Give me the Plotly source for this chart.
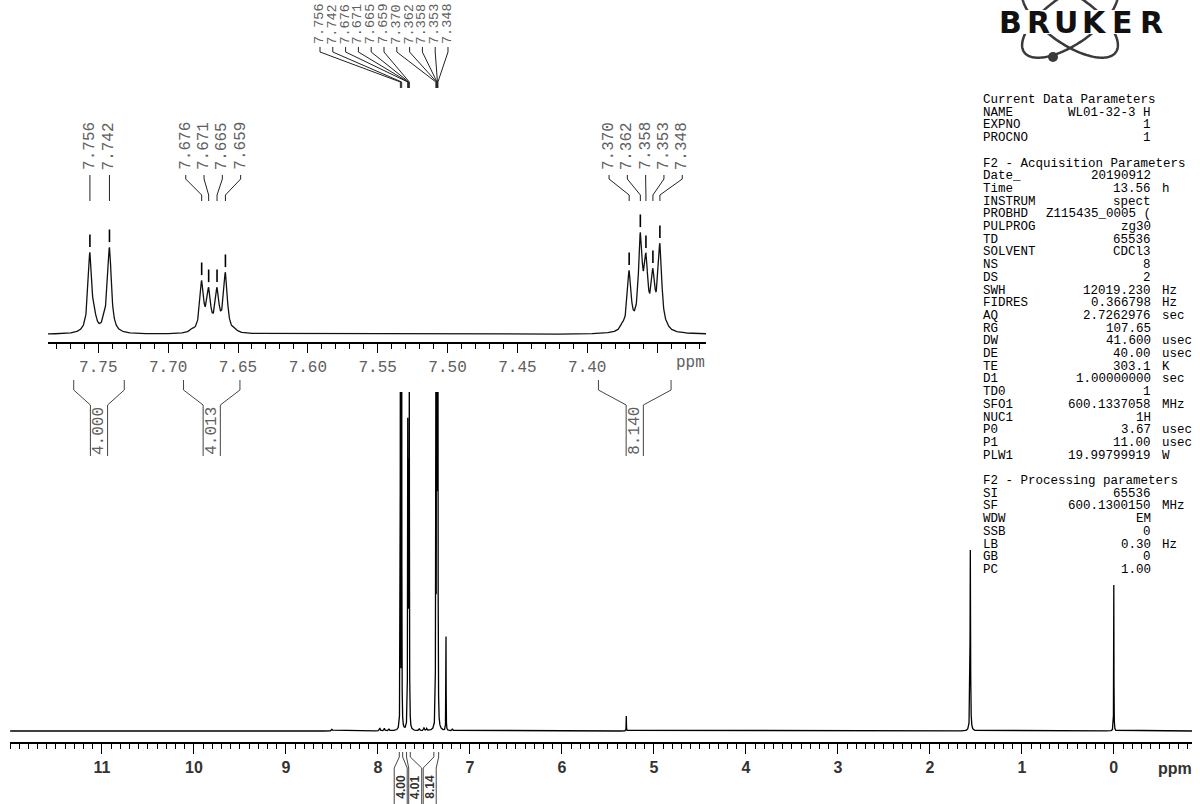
import numpy as np
import plotly.graph_objects as go

W, H = 1200, 804

# ---------------- spectrum data (1H, 600 MHz, CDCl3) ----------------
# labelled aromatic lines (ppm) and their heights in the expansion
arom_ppm = [7.756, 7.742, 7.676, 7.671, 7.665, 7.659, 7.370, 7.362, 7.358, 7.353, 7.348]
arom_height = [82, 87, 54, 47, 47, 62, 64, 102, 81, 66, 91]
# weak second-order components of the multiplets
weak_ppm = [7.7525, 7.7455, 7.683, 7.652, 7.375, 7.343]
weak_height = [24, 24, 6, 6, 12, 12]
line_fwhm = 0.0032

# other signals of the full spectrum: CHCl3, CH2Cl2, H2O, TMS and traces
other_ppm = [7.260, 5.300, 1.560, 0.000, 8.50, 7.98, 7.93, 7.88, 7.55, 7.50, 7.47, 7.19]
other_height = [94, 15, 181, 146, 2, 3, 2.5, 2, 2, 3, 2, 2]
other_fwhm = [0.003, 0.003, 0.006, 0.003, 0.01, 0.01, 0.01, 0.01, 0.01, 0.01, 0.01, 0.01]
full_gain = 5.8  # expansion intensity -> full spectrum intensity

# integrals: (left ppm, right ppm, expansion label, full-spectrum label)
integral_left = [7.7676, 7.6890, 7.3920]
integral_right = [7.7314, 7.6486, 7.3400]
integral_text_inset = ["4.000", "4.013", "8.140"]
integral_text_main = ["4.00", "4.01", "8.14"]

main_ticks = list(range(0, 12))
inset_ticks = [7.35, 7.40, 7.45, 7.50, 7.55, 7.60, 7.65, 7.70, 7.75]

# acquisition / processing parameter listing
data_params = [("NAME", "WL01-32-3 H", ""), ("EXPNO", "1", ""), ("PROCNO", "1", "")]
acq_params = [("Date_", "20190912", ""), ("Time", "13.56", "h"), ("INSTRUM", "spect", ""),
              ("PROBHD", "Z115435_0005 (", ""), ("PULPROG", "zg30", ""), ("TD", "65536", ""),
              ("SOLVENT", "CDCl3", ""), ("NS", "8", ""), ("DS", "2", ""),
              ("SWH", "12019.230", "Hz"), ("FIDRES", "0.366798", "Hz"),
              ("AQ", "2.7262976", "sec"), ("RG", "107.65", ""), ("DW", "41.600", "usec"),
              ("DE", "40.00", "usec"), ("TE", "303.1", "K"), ("D1", "1.00000000", "sec"),
              ("TD0", "1", ""), ("SFO1", "600.1337058", "MHz"), ("NUC1", "1H", ""),
              ("P0", "3.67", "usec"), ("P1", "11.00", "usec"), ("PLW1", "19.99799919", "W")]
proc_params = [("SI", "65536", ""), ("SF", "600.1300150", "MHz"), ("WDW", "EM", ""),
               ("SSB", "0", ""), ("LB", "0.30", "Hz"), ("GB", "0", ""), ("PC", "1.00", "")]

# ---------------- geometry (pixels) ----------------
main_dom = (10, 1192)
main_rng = (12.0, -0.85)
main_axis_y, main_base_y, main_top_y = 742, 731, 80
ins_dom = (48, 706)
ins_rng = (7.786, 7.315)
ins_axis_y, ins_base_y, ins_bottom_y, ins_top_y = 343, 334.3, 392, 100


def px(x):
    return x / W


def py(y):
    return 1 - y / H


def ppm_to_px(p, dom, rng):
    return dom[0] + (rng[0] - p) / (rng[0] - rng[1]) * (dom[1] - dom[0])


def lorentz(x, c, w):
    return 1.0 / (1.0 + ((x - c) / (w / 2.0)) ** 2)


# amplitudes of the multiplet lines so that the summed curve reaches the listed heights
pk = np.array(arom_ppm + weak_ppm)
ht = np.array(arom_height + weak_height, float)
M = lorentz(pk[:, None], pk[None, :], line_fwhm)
amp = np.clip(np.linalg.solve(M, ht), 0, None)


def spectrum(x):
    y = np.zeros_like(x)
    for c, a in zip(pk, amp):
        y += full_gain * a * lorentz(x, c, line_fwhm)
    for c, h, w in zip(other_ppm, other_height, other_fwhm):
        y += h * lorentz(x, c, w)
    return y


all_centres = list(pk) + other_ppm
grid = [np.arange(main_rng[1], main_rng[0], 0.002)]
for c in all_centres:
    grid.append(np.arange(c - 0.03, c + 0.03, 0.0002))
x_main = np.unique(np.round(np.concatenate(grid), 5))
y_main = spectrum(x_main)

x_ins = np.arange(ins_rng[1], ins_rng[0] + 1e-9, 0.0002)
y_ins = spectrum(x_ins) / full_gain
peak_top = spectrum(np.array(arom_ppm)) / full_gain

fig = go.Figure()
fig.add_trace(go.Scatter(x=x_main, y=y_main, mode="lines",
                         line=dict(color="black", width=1.3), hoverinfo="skip",
                         xaxis="x", yaxis="y"))
fig.add_trace(go.Scatter(x=x_ins, y=y_ins, mode="lines",
                         line=dict(color="#111", width=1.3), hoverinfo="skip",
                         xaxis="x2", yaxis="y2"))
# peak-pick marks above each labelled line
fig.add_trace(go.Scatter(x=arom_ppm, y=peak_top + 11.5, mode="markers",
                         marker=dict(symbol="line-ns", size=9,
                                     line=dict(color="black", width=1.6)),
                         hoverinfo="skip", xaxis="x2", yaxis="y2"))

shapes, annotations = [], []


def path_shape(points, color="#222", width=1.0):
    d = "M " + " L ".join(f"{px(a):.5f},{py(b):.5f}" for a, b in points)
    shapes.append(dict(type="path", path=d, xref="paper", yref="paper",
                       line=dict(color=color, width=width)))


def spread(xs, gap):
    xs = np.asarray(xs, float)
    if len(xs) < 2 or np.min(np.abs(np.diff(xs))) >= gap:
        return xs
    return xs.mean() + (np.arange(len(xs)) - (len(xs) - 1) / 2.0) * gap


label_font = dict(family="Liberation Mono", size=16, color="#606060")

# ---- peak labels of the expansion ----
groups = [arom_ppm[0:2], arom_ppm[2:6], arom_ppm[6:11]]
for g in groups:
    pxs = [ppm_to_px(p, ins_dom, ins_rng) for p in g]
    lxs = spread(pxs, 18.3)
    for p, x_pk, x_lb in zip(g, pxs, lxs):
        annotations.append(dict(x=px(x_lb), y=py(146), xref="paper", yref="paper",
                                text=f"{p:.3f}", textangle=-90, showarrow=False,
                                xanchor="center", yanchor="middle", font=label_font))
        path_shape([(x_lb, 175), (x_lb, 179), (x_pk, 195), (x_pk, 201)])

# ---- peak labels of the full spectrum (top) ----
top_left, top_right = 320, 448
top_x = np.linspace(top_left, top_right, len(arom_ppm))
for p, x_lb in zip(arom_ppm, top_x):
    x_pk = ppm_to_px(p, main_dom, main_rng)
    annotations.append(dict(x=px(x_lb), y=py(24), xref="paper", yref="paper",
                            text=f"{p:.3f}", textangle=-90, showarrow=False,
                            xanchor="center", yanchor="middle",
                            font=dict(family="Liberation Mono", size=13.5, color="#606060")))
    path_shape([(x_lb, 47), (x_lb, 52), (x_pk, 82), (x_pk, 88)])

# ---- integrals in the expansion ----
for a, b, t in zip(integral_left, integral_right, integral_text_inset):
    xa, xb = ppm_to_px(a, ins_dom, ins_rng), ppm_to_px(b, ins_dom, ins_rng)
    cx = (xa + xb) / 2
    path_shape([(xa, 380), (xa, 390), (cx - 8.6, 405), (cx - 8.6, 456)], color="#444")
    path_shape([(xb, 380), (xb, 390), (cx + 8.6, 405), (cx + 8.6, 456)], color="#444")
    annotations.append(dict(x=px(cx), y=py(431), xref="paper", yref="paper", text=t,
                            textangle=-90, showarrow=False, xanchor="center",
                            yanchor="middle", font=label_font))

# ---- integrals under the full spectrum ----
mids = [ppm_to_px((a + b) / 2, main_dom, main_rng) for a, b in zip(integral_left, integral_right)]
lab_x = spread(mids, 14.5)
for a, b, t, lx in zip(integral_left, integral_right, integral_text_main, lab_x):
    xa, xb = ppm_to_px(a, main_dom, main_rng), ppm_to_px(b, main_dom, main_rng)
    path_shape([(xa, 752), (xa, 757), (lx - 6.5, 768), (lx - 6.5, 804)], color="#444")
    path_shape([(xb, 752), (xb, 757), (lx + 6.5, 768), (lx + 6.5, 804)], color="#444")
    annotations.append(dict(x=px(lx), y=py(787), xref="paper", yref="paper", text=t,
                            textangle=-90, showarrow=False, xanchor="center",
                            yanchor="middle",
                            font=dict(family="Liberation Sans", size=12, color="#333",
                                      weight="bold")))

# ---- axis unit labels ----
annotations.append(dict(x=px(1175), y=py(768), xref="paper", yref="paper", text="ppm",
                        showarrow=False, xanchor="center", yanchor="middle",
                        font=dict(family="Liberation Sans", size=16, color="#333",
                                  weight="bold")))
annotations.append(dict(x=px(690), y=py(363), xref="paper", yref="paper", text="ppm",
                        showarrow=False, xanchor="center", yanchor="middle",
                        font=label_font))

# ---- parameter listing ----
pfont = dict(family="Liberation Mono", size=12.5, color="#000")
key_x, val_x, unit_x = 980.7, 1153.2, 1160.0
rows = [("Current Data Parameters", None, None)] + data_params + [None] + \
       [("F2 - Acquisition Parameters", None, None)] + acq_params + [None] + \
       [("F2 - Processing parameters", None, None)] + proc_params
for i, row in enumerate(rows):
    if row is None:
        continue
    y = 100 + 12.7 * i
    k, v, u = row
    annotations.append(dict(x=px(key_x), y=py(y), xref="paper", yref="paper", text=k,
                            showarrow=False, xanchor="left", yanchor="middle", font=pfont))
    if v:
        annotations.append(dict(x=px(val_x), y=py(y), xref="paper", yref="paper", text=v,
                                showarrow=False, xanchor="right", yanchor="middle",
                                font=pfont))
    if u:
        annotations.append(dict(x=px(unit_x), y=py(y), xref="paper", yref="paper", text=u,
                                showarrow=False, xanchor="left", yanchor="middle",
                                font=pfont))

# ---- logo: two crossed orbits, nucleus dot, lettering on a white band ----
for ang in (35, -35):
    t = np.linspace(0, 2 * np.pi, 161)
    a, b, cx, cy = 56, 24, 1070, 20
    th = np.radians(ang)
    ex = cx + a * np.cos(t) * np.cos(th) - b * np.sin(t) * np.sin(th)
    ey = cy + a * np.cos(t) * np.sin(th) + b * np.sin(t) * np.cos(th)
    path_shape(list(zip(ex, ey)), color="#3a3a3a", width=2.5)
shapes.append(dict(type="circle", xref="paper", yref="paper",
                   x0=px(1048), x1=px(1058), y0=py(62), y1=py(52),
                   fillcolor="#3a3a3a", line=dict(width=0)))
shapes.append(dict(type="rect", xref="paper", yref="paper",
                   x0=px(994), x1=px(1167), y0=py(34), y1=py(10),
                   fillcolor="white", line=dict(width=0)))
logo_letters = "BRUKER"
for i, ch in enumerate(logo_letters):
    annotations.append(dict(x=px(1010 + i * 28.2), y=py(22), xref="paper", yref="paper",
                            text=ch, showarrow=False, xanchor="center", yanchor="middle",
                            font=dict(family="DejaVu Sans", size=30, color="#111",
                                      weight="bold")))

fig.update_layout(
    width=W, height=H, margin=dict(l=0, r=0, t=0, b=0),
    paper_bgcolor="white", plot_bgcolor="white", showlegend=False,
    shapes=shapes, annotations=annotations,
    xaxis=dict(domain=[px(main_dom[0]), px(main_dom[1])], range=list(main_rng),
               anchor="y", showgrid=False, zeroline=False, showline=True,
               linecolor="black", linewidth=2, ticks="outside", ticklen=10,
               tickwidth=1.2, tickcolor="black", tickvals=main_ticks,
               ticktext=[str(v) for v in main_ticks],
               tickfont=dict(family="Liberation Sans", size=16, color="#333",
                             weight="bold"),
               minor=dict(dtick=0.1, tick0=0, ticks="outside", ticklen=5,
                          tickwidth=1, tickcolor="black")),
    yaxis=dict(domain=[py(main_axis_y), py(main_top_y)],
               range=[-(main_axis_y - main_base_y), (main_axis_y - main_top_y) - (main_axis_y - main_base_y)],
               visible=False),
    xaxis2=dict(domain=[px(ins_dom[0]), px(ins_dom[1])], range=list(ins_rng),
                anchor="free", position=py(ins_axis_y), showgrid=False, zeroline=False,
                showline=True, linecolor="black", linewidth=2, ticks="outside",
                ticklen=9, tickwidth=1.2, tickcolor="black", tickvals=inset_ticks,
                ticktext=["" if v < 7.4 else f"{v:.2f}" for v in inset_ticks],
                tickfont=label_font,
                minor=dict(dtick=0.01, tick0=7.0, ticks="outside", ticklen=5,
                           tickwidth=1, tickcolor="black")),
    yaxis2=dict(domain=[py(ins_bottom_y), py(ins_top_y)], anchor="x2",
                range=[-(ins_bottom_y - ins_base_y), (ins_bottom_y - ins_top_y) - (ins_bottom_y - ins_base_y)],
                visible=False),
)

fig.write_html("out.html")
